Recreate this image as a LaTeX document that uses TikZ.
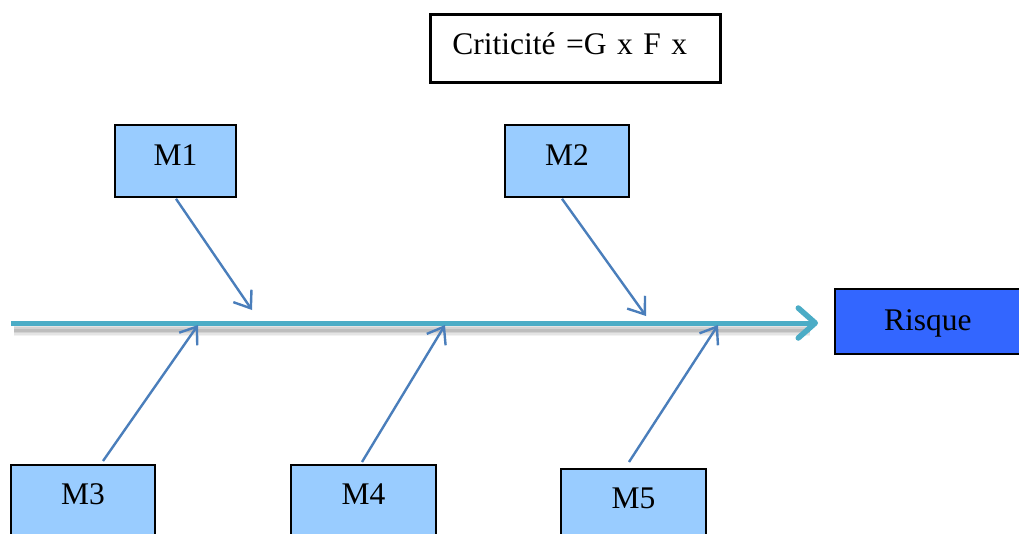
\documentclass[tikz,border=0pt]{standalone}
\usepackage{fontspec}
\setmainfont{Liberation Serif}
\usetikzlibrary{arrows.meta}
\definecolor{mbox}{HTML}{99CCFF}
\definecolor{riskfill}{HTML}{3366FF}
\definecolor{spinecol}{HTML}{4BACC6}
\definecolor{arrowcol}{HTML}{4A7EBB}
\begin{document}
\begin{tikzpicture}[x=1pt,y=-1pt,
  txt/.style={font=\fontsize{31.5}{38}\selectfont},
  mnode/.style={txt,draw=black,line width=1.8pt,fill=mbox,inner ysep=0pt,minimum width=#1,anchor=north},
  cause/.style={draw=arrowcol,line width=2.4pt,-{Straight Barb[length=15pt,width=22pt,line width=2.4pt]}},
  spine/.style={draw=spinecol,line width=5pt,-{Straight Barb[length=17pt,width=30pt,line width=5.5pt,round]}}
]
\useasboundingbox (0,0) rectangle (1019,533);

% Criticite box
\node[txt,draw=black,line width=2.6pt,fill=white,anchor=north west,inner xsep=22pt,inner ysep=0pt,
      text width=246pt,align=left,text height=40pt,text depth=28pt] (crit) at (429,13) {Criticité =G x F x};

% top boxes
\node[mnode=121pt,text height=41pt,text depth=31pt] (m1) at (175.5,124) {M1};
\node[mnode=124pt,text height=41pt,text depth=31pt] (m2) at (567,124) {M2};
% bottom boxes
\node[mnode=144pt,text height=40pt,text depth=60pt] (m3) at (83,464) {M3};
\node[mnode=145pt,text height=40pt,text depth=60pt] (m4) at (363.5,464) {M4};
\node[mnode=145pt,text height=40pt,text depth=60pt] (m5) at (633.5,468) {M5};

% Risque
\node[txt,draw=black,line width=1.8pt,fill=riskfill,anchor=north west,inner ysep=0pt,
      minimum width=200pt,text height=42pt,text depth=23pt] (risk) at (834,288) {\hspace*{-14pt}Risque};

% spine with soft shadow
\coordinate (s0) at (11,323);
\coordinate (s0sh) at (14,330);
\coordinate (s1sh) at (810,330);
\foreach \w/\o in {12/0.05,9/0.06,6/0.08,3/0.1} {
  \draw[line width=\w pt,black,opacity=\o] (s0sh) -- (s1sh);
}
\draw[spine,shorten >=16pt] (s0) -- (s0 -| risk.west);

% tips on spine
\coordinate (t1) at (252,310);
\coordinate (t2) at (646,316);
\coordinate (t3) at (198,325);
\coordinate (t4) at (445,325);
\coordinate (t5) at (718,325);

\draw[cause] (m1.south) ++(0.5,1) coordinate (a1) -- (t1);
\draw[cause] (m2.south) ++(-5,1) coordinate (a2) -- (t2);
\draw[cause] (m3.north) ++(20,-3) coordinate (a3) -- (t3);
\draw[cause] (m4.north) ++(-1.5,-2) coordinate (a4) -- (t4);
\draw[cause] (m5.north) ++(-4.5,-6) coordinate (a5) -- (t5);
\end{tikzpicture}
\end{document}
